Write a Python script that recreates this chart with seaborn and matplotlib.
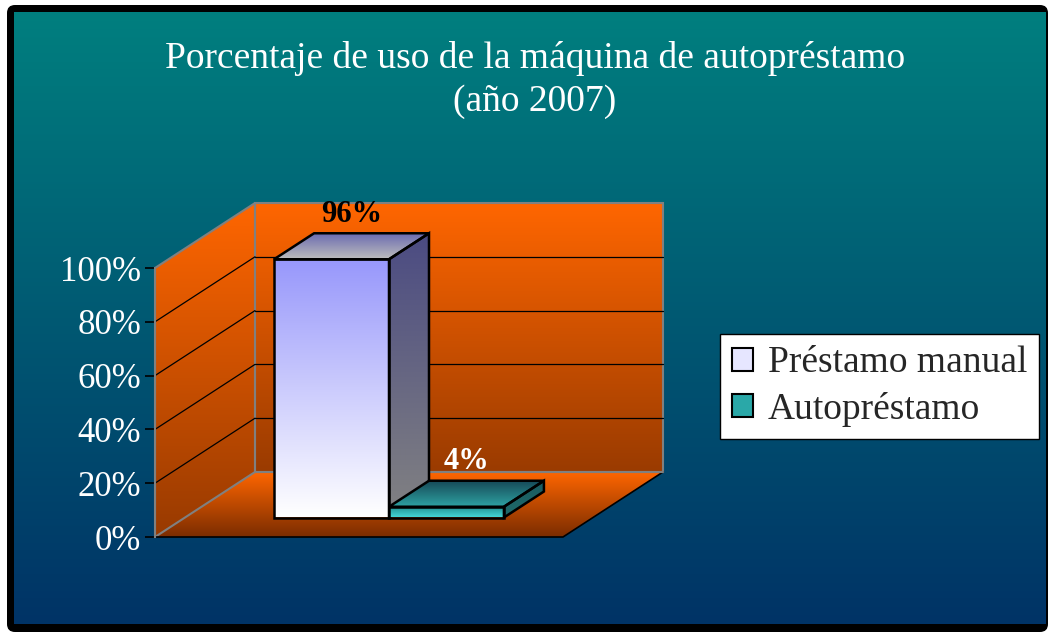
import numpy as np
import pandas as pd
import matplotlib.pyplot as plt
import seaborn as sns
from matplotlib.patches import Polygon, Rectangle, FancyBboxPatch, Patch
from matplotlib.colors import to_rgb

# Datos
series = ["Préstamo manual", "Autopréstamo"]
valores = [96, 4]
etiquetas = ["96%", "4%"]
yticks = [0, 20, 40, 60, 80, 100]
titulo = "Porcentaje de uso de la máquina de autopréstamo\n(año 2007)"

df = pd.DataFrame({"grupo": ["2007"] * len(series), "serie": series, "valor": valores})

# Estilo
sns.set_style("white")
plt.rcParams["font.family"] = ["Liberation Serif", "DejaVu Serif"]

W, H, DPI = 1048, 632, 100
fig = plt.figure(figsize=(W / DPI, H / DPI), dpi=DPI, facecolor="white")


def degradado(top, bottom, n=256):
    c = np.linspace(0, 1, n)[:, None]
    arr = (1 - c) * np.array(to_rgb(top)) + c * np.array(to_rgb(bottom))
    return arr[:, None, :]


def pintar(ax, patch, top, bottom, z):
    if isinstance(patch, Rectangle):
        pts = patch.get_bbox().get_points()
    else:
        pts = np.asarray(patch.get_xy())
    xs, ys = pts[:, 0], pts[:, 1]
    im = ax.imshow(degradado(top, bottom), extent=(xs.min(), xs.max(), ys.min(), ys.max()),
                   origin="upper", aspect="auto", zorder=z, interpolation="bilinear")
    im.set_clip_path(patch)
    return im


# Fondo con marco negro
bg = fig.add_axes([0, 0, 1, 1], zorder=-10)
bg.add_patch(FancyBboxPatch((7, 5), W - 7, H - 5, boxstyle="round,pad=0,rounding_size=8",
                            fc="black", ec="none", zorder=1))
bg.imshow(degradado("#007f7f", "#003366"), extent=(14, W - 2, 624, 12), aspect="auto", zorder=2)
bg.set_xlim(0, W)
bg.set_ylim(H, 0)
bg.axis("off")

# Plano frontal: 408 px para el rango x, 269 px para 0-100 %
front_x = (-0.71, 0.71)
ppx = 408 / (front_x[1] - front_x[0])
ppy = 269 / 100
# Profundidad del gráfico 3D (en píxeles) pasada a unidades de datos
dx = 100 / ppx
dy = 65 / ppy

# Ejes que cubren el plano frontal más la profundidad
ax_w, ax_h = 515, 350
ax = fig.add_axes([155 / W, (H - 537) / H, ax_w / W, ax_h / H])
sns.barplot(data=df, x="grupo", y="valor", hue="serie", hue_order=series, ax=ax,
            width=0.8, saturation=1, legend=False, palette=["#9999ff", "#33cccc"])
barras = list(ax.patches)
xlim = (front_x[0], front_x[0] + ax_w / ppx)
ylim = (0, ax_h / ppy)
ax.patch.set_alpha(0)
x0, x1 = front_x

# Paredes y suelo
pared = Polygon([(x0 + dx, dy), (x1 + dx, dy), (x1 + dx, 100 + dy), (x0 + dx, 100 + dy)],
                closed=True, fc="none", ec="#808080", lw=1.5, zorder=1.2)
lateral = Polygon([(x0, 0), (x0 + dx, dy), (x0 + dx, 100 + dy), (x0, 100)],
                  closed=True, fc="none", ec="#808080", lw=1.5, zorder=1.2)
suelo = Polygon([(x0, 0), (x1, 0), (x1 + dx, dy), (x0 + dx, dy)],
                closed=True, fc="none", ec="none", zorder=1.2)
for p in (pared, lateral, suelo):
    ax.add_patch(p)
pintar(ax, pared, "#ff6600", "#9a3b00", 1)
pintar(ax, lateral, "#ff6600", "#983a00", 1)
pintar(ax, suelo, "#ff6600", "#7a2c00", 1.1)
ax.plot([x0, x1, x1 + dx], [0, 0, dy], color="black", lw=1.2, clip_on=False, zorder=1.3)
ax.plot([x0 + dx, x1 + dx], [dy, dy], color="#808080", lw=1.5, zorder=1.3)

# Líneas de cuadrícula
for v in yticks[1:-1]:
    ax.plot([x0 + dx, x1 + dx], [v + dy, v + dy], color="black", lw=0.9, zorder=1.25)
    ax.plot([x0, x0 + dx], [v, v + dy], color="black", lw=0.9, zorder=1.25)

# Barras 3D
colores = [
    {"front": ("#9797fb", "#ffffff"), "side": ("#4b4b82", "#828282"), "top": ("#6a6ab0", "#bdbdbd")},
    {"front": ("#1f8c8c", "#44d4d4"), "side": ("#1a5a60", "#1f6a6a"), "top": ("#164a58", "#2fa3a3")},
]
color_etiqueta = ["black", "white"]
fx, fy = 0.3 * dx, 0.3 * dy
bx, by = 0.4 * dx, 0.4 * dy
for i, (p, col) in enumerate(zip(barras, colores)):
    z = 3 + i
    x, w, h = p.get_x(), p.get_width(), p.get_height()
    p.set_x(x + fx)
    p.set_y(fy)
    p.set_facecolor("none")
    p.set_edgecolor("black")
    p.set_linewidth(1.8)
    p.set_zorder(z + 0.5)
    pintar(ax, p, col["front"][0], col["front"][1], z + 0.1)
    xa = x + fx
    lado = Polygon([(xa + w, fy), (xa + w + bx, fy + by), (xa + w + bx, fy + by + h), (xa + w, fy + h)],
                   closed=True, fc="none", ec="black", lw=1.8, zorder=z + 0.5)
    tapa = Polygon([(xa, fy + h), (xa + w, fy + h), (xa + w + bx, fy + h + by), (xa + bx, fy + h + by)],
                   closed=True, fc="none", ec="black", lw=1.8, zorder=z + 0.5)
    ax.add_patch(lado)
    ax.add_patch(tapa)
    pintar(ax, lado, col["side"][0], col["side"][1], z + 0.1)
    pintar(ax, tapa, col["top"][0], col["top"][1], z + 0.1)
    ax.annotate(etiquetas[i], (xa + w / 2 + bx / 2, fy + h + by / 2), xytext=(0, 23),
                textcoords="offset points", ha="center", va="center", fontsize=22,
                fontweight="bold", color=color_etiqueta[i], zorder=10, annotation_clip=False)

ax.set_xlim(xlim)
ax.set_ylim(ylim)

# Ejes
ax.set_yticks(yticks)
ax.set_yticklabels([f"{v}%" for v in yticks])
ax.set_xticks([])
ax.set_xlabel("")
ax.set_ylabel("")
ax.tick_params(axis="y", length=7, width=1.2, color="black", labelcolor="white", labelsize=25, pad=3, left=True)
for s in ("top", "right", "bottom"):
    ax.spines[s].set_visible(False)
ax.spines["left"].set_color("#808080")
ax.spines["left"].set_linewidth(1.5)
ax.spines["left"].set_bounds(0, 100)

# Título
fig.text(535 / W, 1 - 80 / H, titulo, ha="center", va="center", color="white",
         fontsize=27, linespacing=1.3)

# Leyenda
manejadores = [Patch(facecolor="#e6e6ff", edgecolor="black", lw=1.5),
               Patch(facecolor="#2aa8a8", edgecolor="black", lw=1.5)]
leg = fig.legend(manejadores, series, loc="upper left", bbox_to_anchor=(720 / W, 1 - 334 / H),
                 borderaxespad=0, frameon=True, fancybox=False, fontsize=27, handlelength=0.55,
                 handleheight=0.55, handletextpad=0.4, labelspacing=0.3, borderpad=0.32)
leg.get_frame().set_edgecolor("black")
leg.get_frame().set_facecolor("white")
leg.get_frame().set_alpha(1)

fig.savefig("out.png", dpi=DPI, facecolor=fig.get_facecolor())
